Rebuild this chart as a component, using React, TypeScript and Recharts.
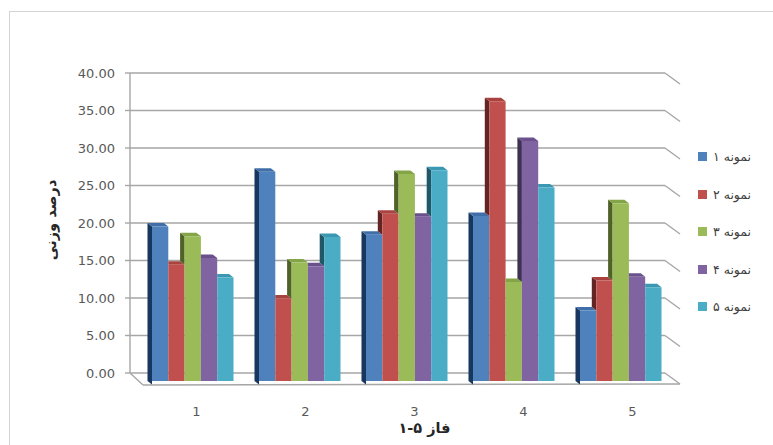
import { BarChart, Bar, XAxis, YAxis, CartesianGrid, Legend } from "recharts";

const phases = ["1", "2", "3", "4", "5"];
const sample1 = [20.6, 27.9, 19.5, 22.0, 9.4];
const sample2 = [15.5, 11.0, 22.3, 37.3, 13.4];
const sample3 = [19.3, 15.8, 27.6, 13.2, 23.7];
const sample4 = [16.4, 15.3, 21.9, 32.0, 13.9];
const sample5 = [13.8, 19.2, 28.1, 25.8, 12.5];
const seriesNames = ["نمونه ۱", "نمونه ۲", "نمونه ۳", "نمونه ۴", "نمونه ۵"];
const yTicks = [0, 5, 10, 15, 20, 25, 30, 35, 40];

const seriesKeys = ["s1", "s2", "s3", "s4", "s5"];
const frontColors = ["#4F81BD", "#C0504D", "#9BBB59", "#8064A2", "#4BACC6"];
const sideColors = ["#17375E", "#632523", "#4F6228", "#3F3151", "#205867"];
const topColors = ["#3F6EA8", "#A9423F", "#84A547", "#6A518C", "#3A98B2"];

const data = phases.map((phase, i) => ({
  phase,
  s1: sample1[i],
  s2: sample2[i],
  s3: sample3[i],
  s4: sample4[i],
  s5: sample5[i],
}));

const DX = 4.5;
const DY = 3.5;
const FRONT_DY = 8; // bars stand in front of the back wall
const gridColor = "#A6A6A6";
const font = "'DejaVu Sans', sans-serif";

// 3d-ish bar: dark left side, thin top, flat front
function makeShape(idx: number) {
  return (props: any) => {
    const { x, width, height, payload } = props;
    if (!height || height <= 0) return <g />;
    const y = props.y + FRONT_DY;
    const base = y + height;
    const perUnit = height / payload[seriesKeys[idx]];
    const prevTop = idx > 0 ? base - payload[seriesKeys[idx - 1]] * perUnit : base + DY;
    const prevTaller = idx > 0 && prevTop <= y;
    return (
      <g>
        {!prevTaller && (
          <polygon
            points={`${x},${y} ${x - DX},${y - DY} ${x - DX},${prevTop - DY} ${x},${prevTop}`}
            fill={sideColors[idx]}
          />
        )}
        {prevTaller ? (
          <polygon
            points={`${x},${y - DY} ${x + width - DX},${y - DY} ${x + width},${y} ${x},${y}`}
            fill={topColors[idx]}
          />
        ) : (
          <polygon
            points={`${x},${y} ${x - DX},${y - DY} ${x + width - DX},${y - DY} ${x + width},${y}`}
            fill={topColors[idx]}
          />
        )}
        <rect x={x} y={y} width={width} height={height} fill={frontColors[idx]} />
      </g>
    );
  };
}

const shapes = seriesKeys.map((_, i) => makeShape(i));

// grid line on back wall + the slanted bit on the right side wall
const GridLine = (props: any) => {
  const { x1, y1, x2, y2, y, height } = props;
  const isFloor = Math.abs(y1 - (y + height)) < 0.5;
  return (
    <g key={props.key}>
      <line x1={x1} y1={y1} x2={x2} y2={y2} stroke={gridColor} strokeWidth={1.4} />
      <line x1={x2} y1={y2} x2={x2 + 15} y2={y2 + 11} stroke={gridColor} strokeWidth={1.4} />
      {isFloor && (
        <>
          <line x1={x1} y1={y1} x2={x1 + 13} y2={y1 + 12} stroke={gridColor} strokeWidth={1.4} />
          <line x1={x1 + 13} y1={y1 + 12} x2={x2 + 15} y2={y2 + 11} stroke={gridColor} strokeWidth={1.4} />
        </>
      )}
    </g>
  );
};

const renderLegend = (props: any) => (
  <div>
    {(props.payload || []).map((e: any) => (
      <div key={e.value} style={{ display: "flex", alignItems: "center", height: 37.5 }}>
        <span style={{ display: "inline-block", width: 9, height: 9, background: e.color, marginRight: 6 }} />
        <span style={{ fontSize: 12.5, color: "#404040", fontFamily: font }}>{e.value}</span>
      </div>
    ))}
  </div>
);

const YTitle = (props: any) => {
  const { viewBox } = props;
  const cx = viewBox.x + 41;
  const cy = viewBox.y + viewBox.height / 2 - 3;
  return (
    <text
      x={cx}
      y={cy}
      transform={`rotate(-90 ${cx} ${cy})`}
      textAnchor="middle"
      dominantBaseline="central"
      fontSize={14.5}
      fontWeight="bold"
      fill="#262626"
      fontFamily={font}
    >
      درصد وزنی
    </text>
  );
};

const XTitle = (props: any) => {
  const { viewBox } = props;
  return (
    <text
      x={viewBox.x + viewBox.width / 2 + 27}
      y={viewBox.y + 60}
      textAnchor="middle"
      fontSize={14.5}
      fontWeight="bold"
      fill="#262626"
      fontFamily={font}
    >
      فاز ۵-۱
    </text>
  );
};

export default function App() {
  return (
    <div style={{ position: "absolute", left: 0, top: 0, width: 773, height: 445, overflow: "hidden", background: "#fff" }}>
      <div
        style={{
          position: "absolute",
          left: 9,
          top: 11,
          width: 800,
          height: 500,
          border: "1.5px solid #D4D4D4",
        }}
      />
      <BarChart
        width={773}
        height={445}
        data={data}
        margin={{ top: 73, right: 108, left: 10, bottom: 42 }}
        barGap={0}
        barSize={16.3}
        style={{ position: "absolute", left: 0, top: 0 }}
      >
        <CartesianGrid xAxisId="front" vertical={false} horizontal={GridLine} />
        <XAxis xAxisId="front" dataKey="phase" hide height={0} padding={{ left: 9, right: -9 }} />
        <XAxis
          xAxisId="lbl"
          dataKey="phase"
          height={30}
          axisLine={false}
          tickLine={false}
          tickSize={0}
          tickMargin={0}
          padding={{ left: 12, right: -22 }}
          tick={{ fontSize: 13, fill: "#595959", fontFamily: font, dy: 34 }}
          label={<XTitle />}
        />
        <YAxis
          width={120}
          domain={[0, 40]}
          ticks={yTicks}
          interval={0}
          tickFormatter={(v: number) => v.toFixed(2)}
          axisLine={{ stroke: gridColor, strokeWidth: 1.4 }}
          tickLine={{ stroke: gridColor, strokeWidth: 1.4 }}
          tickSize={5}
          tickMargin={10}
          tick={{ fontSize: 13, fill: "#595959", fontFamily: font }}
          label={<YTitle />}
        />
        {seriesKeys.map((k, i) => (
          <Bar
            key={k}
            dataKey={k}
            name={seriesNames[i]}
            xAxisId="front"
            fill={frontColors[i]}
            shape={shapes[i]}
            isAnimationActive={false}
          />
        ))}
        <Legend
          layout="vertical"
          align="center"
          verticalAlign="middle"
          content={renderLegend}
          wrapperStyle={{ left: 698, top: 138, width: 75 }}
        />
      </BarChart>
    </div>
  );
}
